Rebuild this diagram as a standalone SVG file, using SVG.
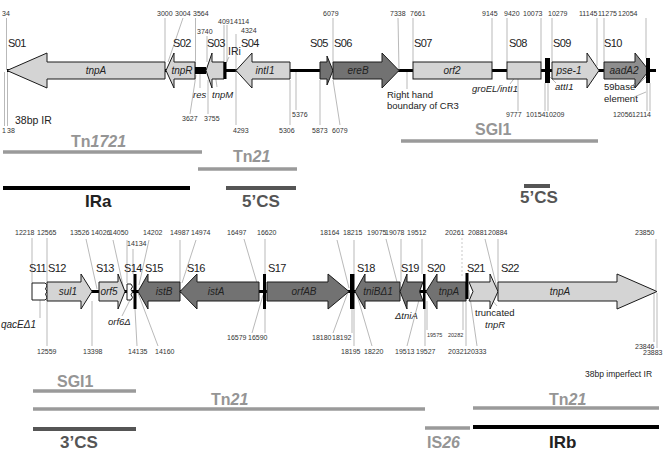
<svg xmlns="http://www.w3.org/2000/svg" width="664" height="451" viewBox="0 0 664 451">
<style>
text{font-family:"Liberation Sans",Arial,sans-serif;fill:#222}
.n{font-size:7px;fill:#333}
.n2{font-size:5.5px;fill:#333}
.s{font-size:11px;letter-spacing:-0.6px}
.g{font-size:10px;font-style:italic;text-anchor:middle}
.l{font-size:9.5px}
.li{font-size:9.5px;font-style:italic}
.lt{fill:#d4d4d4;stroke:#1a1a1a;stroke-width:1}
.dk{fill:#727272;stroke:#1a1a1a;stroke-width:1}
.md{fill:#8e8e8e;stroke:#1a1a1a;stroke-width:1}
.wh{fill:#fff;stroke:#1a1a1a;stroke-width:1}
.bk{fill:#000}
.bb{stroke:#000;stroke-width:3}
.ld{stroke:#8a8a8a;stroke-width:0.6;fill:none}
.dash{stroke:#bbb;stroke-width:0.8;stroke-dasharray:2 2}
.bl{font-size:16px;fill:#959595;font-weight:bold}
.bd{font-size:17px;font-weight:bold}
</style>

<g id="connectors">
  <line class="bb" x1="7" y1="70.5" x2="656" y2="70.5"/>
  <line class="bb" x1="32" y1="291.5" x2="467" y2="291.5"/>
  <line class="ld" x1="6.5" y1="18" x2="6.5" y2="70"/>
  <line class="ld" x1="4.5" y1="72" x2="4.5" y2="126"/>
  <line class="ld" x1="7.5" y1="72" x2="7.5" y2="126"/>
  <line class="ld" x1="165" y1="18" x2="165" y2="62"/>
  <line class="ld" x1="183" y1="18" x2="168" y2="62"/>
  <line class="ld" x1="195.5" y1="18" x2="195.5" y2="67"/>
  <line class="ld" x1="196" y1="75" x2="190" y2="114"/>
  <line class="ld" x1="207" y1="36" x2="207" y2="62"/>
  <line class="ld" x1="208" y1="80" x2="208" y2="114"/>
  <line class="ld" x1="200" y1="74" x2="200" y2="88"/>
  <line class="ld" x1="217" y1="87" x2="215" y2="73"/>
  <line class="ld" x1="224" y1="25" x2="224" y2="62"/>
  <line class="ld" x1="227" y1="25" x2="227" y2="62"/>
  <line class="ld" x1="229" y1="57" x2="226" y2="63"/>
  <line class="ld" x1="236" y1="34" x2="236" y2="70"/>
  <line class="ld" x1="236" y1="71" x2="236" y2="125"/>
  <line class="ld" x1="290" y1="80" x2="290" y2="125"/>
  <line class="ld" x1="296" y1="72" x2="296" y2="110"/>
  <line class="ld" x1="320" y1="80" x2="320" y2="125"/>
  <line class="ld" x1="333" y1="18" x2="333" y2="62"/>
  <line class="ld" x1="333" y1="80" x2="340" y2="125"/>
  <line class="ld" x1="398" y1="18" x2="399" y2="70"/>
  <line class="ld" x1="407" y1="72" x2="407" y2="89"/>
  <line class="ld" x1="413" y1="18" x2="413" y2="62"/>
  <line class="ld" x1="492" y1="18" x2="492" y2="62"/>
  <line class="ld" x1="507" y1="18" x2="507" y2="62"/>
  <line class="ld" x1="541" y1="18" x2="541" y2="62"/>
  <line class="ld" x1="552" y1="18" x2="552" y2="62"/>
  <line class="ld" x1="597" y1="18" x2="597" y2="66"/>
  <line class="ld" x1="604" y1="18" x2="604" y2="62"/>
  <line class="ld" x1="646" y1="18" x2="646" y2="58"/>
  <line class="ld" x1="518" y1="79" x2="518" y2="111"/>
  <line class="ld" x1="545" y1="83" x2="545" y2="111"/>
  <line class="ld" x1="548" y1="83" x2="548" y2="111"/>
  <line class="ld" x1="510" y1="84" x2="518" y2="73"/>
  <line class="ld" x1="548" y1="75" x2="556" y2="83"/>
  <line class="ld" x1="647" y1="83" x2="647" y2="111"/>
  <line class="ld" x1="650" y1="83" x2="650" y2="111"/>
  <line class="ld" x1="633" y1="85" x2="646" y2="73"/>
  <line class="ld" x1="635" y1="88" x2="648" y2="75"/>
  <line class="ld" x1="634" y1="97" x2="646" y2="92"/>
  <line class="ld" x1="32" y1="238" x2="32" y2="283"/>
  <line class="ld" x1="47" y1="238" x2="47" y2="282"/>
  <line class="ld" x1="47" y1="301" x2="47" y2="346"/>
  <line class="ld" x1="86" y1="239" x2="97" y2="289"/>
  <line class="ld" x1="92" y1="301" x2="92" y2="346"/>
  <line class="ld" x1="113" y1="240" x2="124" y2="290"/>
  <line class="ld" x1="127" y1="240" x2="127" y2="283"/>
  <line class="ld" x1="133" y1="249" x2="133" y2="274"/>
  <line class="ld" x1="149" y1="240" x2="139" y2="285"/>
  <line class="ld" x1="135" y1="309" x2="137" y2="346"/>
  <line class="ld" x1="138" y1="293" x2="158" y2="346"/>
  <line class="ld" x1="180" y1="240" x2="180" y2="282"/>
  <line class="ld" x1="196" y1="240" x2="182" y2="283"/>
  <line class="ld" x1="244" y1="239" x2="257" y2="283"/>
  <line class="ld" x1="265" y1="239" x2="265" y2="274"/>
  <line class="ld" x1="263" y1="295" x2="252" y2="333"/>
  <line class="ld" x1="265" y1="309" x2="265" y2="333"/>
  <line class="ld" x1="337" y1="240" x2="349" y2="288"/>
  <line class="ld" x1="354" y1="240" x2="354" y2="274"/>
  <line class="ld" x1="348" y1="292" x2="333" y2="333"/>
  <line class="ld" x1="352" y1="309" x2="352" y2="333"/>
  <line class="ld" x1="354" y1="309" x2="354" y2="346"/>
  <line class="ld" x1="357" y1="295" x2="372" y2="346"/>
  <line class="ld" x1="386" y1="239" x2="398" y2="286"/>
  <line class="ld" x1="401" y1="239" x2="401" y2="282"/>
  <line class="ld" x1="422" y1="239" x2="422" y2="274"/>
  <line class="ld" x1="420" y1="296" x2="407" y2="346"/>
  <line class="ld" x1="425" y1="309" x2="425" y2="346"/>
  <line class="ld" x1="427" y1="301" x2="427" y2="330"/>
  <line class="dash" x1="462" y1="238" x2="462" y2="276"/>
  <line class="ld" x1="463" y1="293" x2="463" y2="330"/>
  <line class="ld" x1="466" y1="299" x2="466" y2="346"/>
  <line class="ld" x1="469" y1="290" x2="477" y2="346"/>
  <line class="ld" x1="485" y1="239" x2="497" y2="288"/>
  <line class="ld" x1="498" y1="239" x2="498" y2="289"/>
  <line class="ld" x1="656" y1="239" x2="656" y2="290"/>
  <line class="ld" x1="654" y1="293" x2="654" y2="342"/>
  <line class="ld" x1="657" y1="293" x2="657" y2="348"/>
  <line class="ld" x1="40" y1="297" x2="40" y2="318"/>
  <line class="ld" x1="122" y1="316" x2="130" y2="300"/>
  <line class="ld" x1="406" y1="308" x2="410" y2="292"/>
  <line class="ld" x1="486" y1="293" x2="497" y2="306"/>
</g>

<g id="top-numbers">
  <text class="n" x="6" y="16" text-anchor="middle">34</text>
  <text class="n" x="157" y="16">3000</text>
  <text class="n" x="175" y="16">3004</text>
  <text class="n" x="193" y="16">3564</text>
  <text class="n" x="197" y="34">3740</text>
  <text class="n" x="218" y="24">4091</text>
  <text class="n" x="234" y="24">4114</text>
  <text class="n" x="241" y="33">4324</text>
  <text class="n" x="323" y="16">6079</text>
  <text class="n" x="390" y="16">7338</text>
  <text class="n" x="410" y="16">7661</text>
  <text class="n" x="482" y="16">9145</text>
  <text class="n" x="504" y="16">9420</text>
  <text class="n" x="523" y="16">10073</text>
  <text class="n" x="548" y="16">10279</text>
  <text class="n" x="579" y="16">11145</text>
  <text class="n" x="598" y="16">11275</text>
  <text class="n" x="618" y="16">12054</text>
  <text class="n" x="2" y="133">1</text>
  <text class="n" x="7" y="133">38</text>
  <text class="n" x="182" y="121">3627</text>
  <text class="n" x="204" y="121">3755</text>
  <text class="n" x="233" y="133">4293</text>
  <text class="n" x="279" y="133">5306</text>
  <text class="n" x="292" y="117">5376</text>
  <text class="n" x="312" y="133">5873</text>
  <text class="n" x="332" y="133">6079</text>
  <text class="n" x="506" y="117">9777</text>
  <text class="n" x="526" y="117">10154</text>
  <text class="n" x="545" y="117">10209</text>
  <text class="n" x="613" y="117">12056</text>
  <text class="n" x="632" y="117">12114</text>
</g>

<g id="top-labels">
  <text class="s" x="8" y="47">S01</text>
  <text class="s" x="173" y="47">S02</text>
  <text class="s" x="207" y="47">S03</text>
  <text class="s" x="241" y="47">S04</text>
  <text class="s" x="310" y="47">S05</text>
  <text class="s" x="334" y="47">S06</text>
  <text class="s" x="414" y="47">S07</text>
  <text class="s" x="509" y="47">S08</text>
  <text class="s" x="553" y="47">S09</text>
  <text class="s" x="604" y="47">S10</text>
  <text class="l" x="15" y="124" style="font-size:10.5px">38bp IR</text>
  <text class="li" x="193" y="98">res</text>
  <text class="li" x="212" y="98">tnpM</text>
  <text class="l" x="228" y="55" style="font-size:10.5px">IRi</text>
  <text class="l" x="387" y="98">Right hand</text>
  <text class="l" x="387" y="109">boundary of CR3</text>
  <text class="li" x="472" y="92">groEL/intI1</text>
  <text class="li" x="555" y="90">attI1</text>
  <text class="l" x="604" y="90">59base</text>
  <text class="l" x="604" y="102">element</text>
</g>

<g id="S01"><polygon class="lt" points="7,70.5 47,53 47,62 165,62 165,79 47,79 47,88"/><text class="g" x="96" y="74">tnpA</text></g>
<g id="S02"><polygon class="lt" points="166,70.5 174,53 174,62 195,62 195,79 174,79 174,88"/><text class="g" x="182" y="74">tnpR</text></g>
<g id="res"><rect class="bk" x="195" y="67" width="11" height="7"/></g>
<g id="S03"><polygon class="lt" points="206,70.5 212,53 212,62 224,62 224,79 212,79 212,88"/><rect class="bk" x="223.5" y="62" width="3" height="17"/></g>
<g id="S04"><polygon class="lt" points="236,70.5 252,53 252,62 290,62 290,79 252,79 252,88"/><text class="g" x="265" y="74">intI1</text></g>
<g id="S05"><polygon class="dk" points="320,62 327,62 327,56 333,70.5 327,85 327,79 320,79"/></g>
<g id="S06"><polygon class="dk" points="333,62 382,62 382,53 399,70.5 382,88 382,79 333,79"/><text class="g" x="358" y="74">ereB</text></g>
<g id="S07"><rect class="lt" x="413" y="62" width="79" height="17"/><text class="g" x="452" y="74">orf2</text></g>
<g id="S08"><rect class="lt" x="507" y="62" width="34" height="17"/></g>
<g id="attI1"><rect class="bk" x="545" y="58" width="5" height="25"/></g>
<g id="S09"><polygon class="lt" points="552,62 587,62 587,53 599,70.5 587,88 587,79 552,79"/><text class="g" x="569" y="74">pse-1</text></g>
<g id="S10"><polygon class="md" points="604,62 635,62 635,53 649,70.5 635,88 635,79 604,79"/><text class="g" x="624" y="74">aadA2</text><rect class="bk" x="646" y="58" width="4" height="25"/></g>

<g id="bottom-numbers">
  <text class="n" x="15" y="235">12218</text>
  <text class="n" x="37" y="235">12565</text>
  <text class="n" x="70" y="235">13526</text>
  <text class="n" x="91" y="235">14026</text>
  <text class="n" x="109" y="235">14050</text>
  <text class="n" x="127" y="246">14134</text>
  <text class="n" x="143" y="235">14202</text>
  <text class="n" x="170" y="235">14987</text>
  <text class="n" x="191" y="235">14974</text>
  <text class="n" x="227" y="235">16497</text>
  <text class="n" x="257" y="235">16620</text>
  <text class="n" x="320" y="235">18164</text>
  <text class="n" x="343" y="235">18215</text>
  <text class="n" x="367" y="235">19075</text>
  <text class="n" x="385" y="235">19078</text>
  <text class="n" x="407" y="235">19512</text>
  <text class="n" x="445" y="235">20261</text>
  <text class="n" x="468" y="235">20881</text>
  <text class="n" x="488" y="235">20884</text>
  <text class="n" x="635" y="235">23850</text>
  <text class="n" x="37" y="354">12559</text>
  <text class="n" x="83" y="354">13398</text>
  <text class="n" x="128" y="354">14135</text>
  <text class="n" x="155" y="354">14160</text>
  <text class="n" x="227" y="340">16579</text>
  <text class="n" x="248" y="340">16590</text>
  <text class="n" x="312" y="340">18180</text>
  <text class="n" x="332" y="340">18192</text>
  <text class="n" x="341" y="354">18195</text>
  <text class="n" x="364" y="354">18220</text>
  <text class="n" x="395" y="354">19513</text>
  <text class="n" x="416" y="354">19527</text>
  <text class="n2" x="427" y="337">19575</text>
  <text class="n2" x="448" y="337">20282</text>
  <text class="n" x="448" y="354">20321</text>
  <text class="n" x="467" y="354">20333</text>
  <text class="n" x="635" y="349">23846</text>
  <text class="n" x="643" y="355">23883</text>
</g>

<g id="bottom-labels">
  <text class="s" x="29" y="272">S11</text>
  <text class="s" x="48" y="272">S12</text>
  <text class="s" x="96" y="272">S13</text>
  <text class="s" x="124" y="272">S14</text>
  <text class="s" x="145" y="272">S15</text>
  <text class="s" x="187" y="272">S16</text>
  <text class="s" x="268" y="272">S17</text>
  <text class="s" x="357" y="272">S18</text>
  <text class="s" x="401" y="272">S19</text>
  <text class="s" x="427" y="272">S20</text>
  <text class="s" x="467" y="272">S21</text>
  <text class="s" x="501" y="272">S22</text>
  <text class="li" x="1" y="328" style="font-size:10px">qacEΔ1</text>
  <text class="li" x="108" y="325">orf6Δ</text>
  <text class="li" x="395" y="319">ΔtniA</text>
  <text class="l" x="475" y="316">truncated</text>
  <text class="li" x="485" y="328">tnpR</text>
  <text class="l" x="585" y="377" style="font-size:8.5px">38bp imperfect IR</text>
</g>

<g id="S11"><path class="wh" d="M32,283 H45 q4,2.8 0,5.7 q4,2.8 0,5.7 q4,2.8 0,5.6 H32 Z"/></g>
<g id="S12"><polygon class="lt" points="47,282 81,282 81,274 92,291.5 81,309 81,301 47,301"/><text class="g" x="68" y="295">sul1</text></g>
<g id="S13"><polygon class="lt" points="99,282 118,282 118,274 125,291.5 118,309 118,301 99,301"/><text class="g" x="109" y="295">orf5</text></g>
<g id="S14"><path class="wh" d="M127,284 H131 q3,2.7 0,5.4 q3,2.7 0,5.4 q3,2.6 0,5.2 H127 Z"/><rect class="bk" x="133.5" y="274" width="3" height="35"/></g>
<g id="S15"><polygon class="dk" points="138,291.5 148,274 148,282 180,282 180,301 148,301 148,309"/><text class="g" x="164" y="295">istB</text></g>
<g id="S16"><polygon class="dk" points="180,291.5 197,274 197,282 259,282 259,301 197,301 197,309"/><text class="g" x="216" y="295">istA</text></g>
<g id="S17"><rect class="bk" x="263" y="274" width="3" height="35"/><polygon class="dk" points="267,282 328,282 328,274 349,291.5 328,309 328,301 267,301"/><text class="g" x="304" y="295">orfAB</text></g>
<g id="S18"><rect class="bk" x="350" y="274" width="4.5" height="35"/><polygon class="dk" points="355,291.5 365,274 365,282 400,282 400,301 365,301 365,309"/><text class="g" x="378" y="295">tniBΔ1</text></g>
<g id="S19"><polygon class="dk" points="400,291.5 407,274 407,282 423,282 419.5,291.5 423,301 407,301 407,309"/><rect class="bk" x="423" y="274" width="2.5" height="35"/></g>
<g id="S20"><polygon class="dk" points="426,291.5 437,274 437,282 466,282 466,301 437,301 437,309"/><text class="g" x="449" y="295">tnpA</text><rect class="bk" x="465.5" y="273" width="3" height="26"/></g>
<g id="S21"><polygon class="lt" points="469,282 490,282 490,274 498,291.5 490,309 490,301 469,301 473,291.5"/></g>
<g id="S22"><polygon class="lt" points="498,282 617,282 617,274 657,291.5 617,309 617,301 498,301"/><text class="g" x="560" y="295">tnpA</text></g>

<g id="Tn1721"><line stroke="#9a9a9a" stroke-width="3.5" x1="3" y1="152" x2="202" y2="152"/><text class="bl" x="71" y="147">Tn<tspan font-style="italic">1721</tspan></text></g>
<g id="Tn21-top"><line stroke="#9a9a9a" stroke-width="3.5" x1="198" y1="169" x2="297" y2="169"/><text class="bl" x="233" y="162">Tn<tspan font-style="italic">21</tspan></text></g>
<g id="IRa"><line stroke="#000" stroke-width="4" x1="3" y1="188" x2="190" y2="188"/><text class="bd" x="85" y="207">IRa</text></g>
<g id="CS5-a"><line stroke="#555" stroke-width="4" x1="226" y1="188" x2="296" y2="188"/><text class="bd" x="242" y="207" style="fill:#555">5’CS</text></g>
<g id="SGI1-top"><line stroke="#9a9a9a" stroke-width="3.5" x1="401" y1="141" x2="598" y2="141"/><text class="bl" x="475" y="135">SGI1</text></g>
<g id="CS5-b"><line stroke="#555" stroke-width="4" x1="524" y1="186" x2="550" y2="186"/><text class="bd" x="520" y="203" style="fill:#555">5’CS</text></g>
<g id="SGI1-bottom"><line stroke="#9a9a9a" stroke-width="3.5" x1="33" y1="391" x2="136" y2="391"/><text class="bl" x="57" y="387">SGI1</text></g>
<g id="Tn21-left"><line stroke="#9a9a9a" stroke-width="3.5" x1="33" y1="409" x2="425" y2="409"/><text class="bl" x="211" y="405">Tn<tspan font-style="italic">21</tspan></text></g>
<g id="Tn21-right"><line stroke="#9a9a9a" stroke-width="3.5" x1="473" y1="408" x2="659" y2="408"/><text class="bl" x="549" y="405">Tn<tspan font-style="italic">21</tspan></text></g>
<g id="CS3"><line stroke="#555" stroke-width="4" x1="33" y1="429" x2="136" y2="429"/><text class="bd" x="60" y="448" style="fill:#555">3’CS</text></g>
<g id="IS26"><line stroke="#9a9a9a" stroke-width="3.5" x1="425" y1="428" x2="470" y2="428"/><text class="bl" x="427" y="448">IS<tspan font-style="italic">26</tspan></text></g>
<g id="IRb"><line stroke="#000" stroke-width="4" x1="473" y1="427" x2="659" y2="427"/><text class="bd" x="549" y="448">IRb</text></g>
</svg>
